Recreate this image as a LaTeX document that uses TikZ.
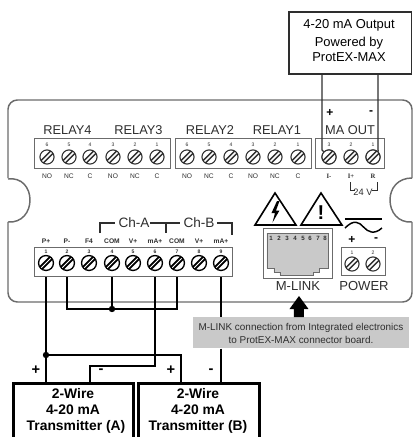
\documentclass[tikz,border=0pt]{standalone}
\usepackage{fontspec}
\setmainfont{Liberation Sans}
\newfontfamily\serifx{Liberation Serif}
\newcommand{\fsz}[1]{\fontsize{#1}{#1}\selectfont}
\definecolor{ink}{gray}{0.18}
\definecolor{panelc}{gray}{0.42}
\definecolor{greyb}{gray}{0.79}
\tikzset{
 x=0.75pt,y=-0.75pt,
 screwl/.style={circle,draw=ink,line width=0.8pt,fill=white,minimum size=10.6pt,inner sep=0pt,
   path picture={\draw[ink,line width=3.6pt] (path picture bounding box.south west)--(path picture bounding box.north east);
   \draw[white,line width=1.3pt] (path picture bounding box.south west)--(path picture bounding box.north east);}},
 screwd/.style={circle,draw=black,line width=1pt,fill=white,minimum size=11.2pt,inner sep=0pt,
   path picture={\draw[black,line width=3.6pt] (path picture bounding box.south west)--(path picture bounding box.north east);
   \draw[white,line width=0.6pt] (path picture bounding box.south west)--(path picture bounding box.north east);}},
 block/.style={draw=panelc,line width=0.9pt,fill=white,inner sep=0pt,anchor=north west},
 lbl/.style={inner sep=0pt,text=ink,font=\fsz{9.6}},
 small/.style={inner sep=0pt,text=ink,font=\fsz{5}},
 nr/.style={inner sep=0pt,text=ink,font=\fsz{3.8}},
 mid/.style={inner sep=0pt,text=black,font=\fsz{10.5}},
 wire/.style={draw=black,line width=1.3pt},
 twire/.style={draw=ink,line width=1pt},
 tx/.style={draw=black,line width=1.9pt,fill=white,inner sep=0pt,anchor=north west},
 txlab/.style={inner sep=0pt,text=black,font=\fsz{10.4}\bfseries},
 dot/.style={circle,fill=black,inner sep=0pt,minimum size=4.8pt},
 sign/.style={inner sep=0pt,text=black,font=\fsz{11}\bfseries},
}
\begin{document}
\begin{tikzpicture}
\useasboundingbox (0,0) rectangle (414,437);
% panel
\draw[panelc,line width=1.1pt,rounded corners=7pt]
  (8,178) -- (8,100) -- (412,100) -- (412,178) ;
\draw[panelc,line width=1.1pt,rounded corners=7pt]
  (8,222) -- (8,302) -- (412,302) -- (412,222);
\draw[panelc,line width=1.1pt] (8,179) .. controls (22,177) and (30,188) .. (30,200) .. controls (30,212) and (22,223) .. (8,222);
\draw[panelc,line width=1.1pt] (412,178) .. controls (398,178) and (390,188) .. (390,200) .. controls (390,212) and (398,223) .. (412,222);
% terminal blocks
\node[block,minimum width=102pt,minimum height=22.5pt] (relayA) at (34,138) {};
\node[block,minimum width=102pt,minimum height=22.5pt] (relayB) at (175,138) {};
\node[block,minimum width=51.75pt,minimum height=22.5pt] (maout) at (315,138) {};
\node[block,minimum width=148.5pt,minimum height=21.75pt] (lower) at (34,247) {};
\node[block,minimum width=33pt,minimum height=21pt] (pow) at (341,247) {};
% relay screws
\foreach \i/\xx/\n/\t in {1/47/6/NO,2/69/5/NC,3/90/4/C,4/113/3/NO,5/135/2/NC,6/157/1/C,7/187/6/NO,8/209/5/NC,9/231/4/C,10/253/3/NO,11/275/2/NC,12/298/1/C}{
  \node[screwl] (r\i) at (\xx,157) {};
  \node[nr] (rn\i) at (\xx,145) {\n};
  \node[small] (rt\i) at (\xx,176) {\t};
}
\foreach \i/\xx/\n/\t in {1/329/3/I-,2/351/2/I+,3/373/1/R}{
  \node[screwl] (m\i) at (\xx,157) {};
  \node[nr] (mn\i) at (\xx,145) {\n};
  \node[small,font=\serifx\bfseries\fsz{5}] (mt\i) at (\xx,176) {\t};
}
\foreach \i/\xx/\n/\t in {1/46/1/P+,2/67/2/P-,3/89/3/F4,4/112/4/COM,5/133/5/V+,6/155/6/mA+,7/177/7/COM,8/199/8/V+,9/221/9/mA+}{
  \node[screwd] (t\i) at (\xx,263) {};
  \node[nr,font=\bfseries\fsz{3.8}] (tn\i) at (\xx,252) {\n};
  \node[small,font=\bfseries\fsz{5}] (tt\i) at (\xx,241) {\t};
}
\foreach \i/\xx/\n in {1/352/1,2/373/2}{
  \node[screwl] (p\i) at (\xx,264) {};
  \node[nr] (pn\i) at (\xx,253) {\n};
}
% labels
\node[lbl] (l4) at (67.5,130) {RELAY4};
\node[lbl] (l3) at (138.5,130) {RELAY3};
\node[lbl] (l2) at (210,130) {RELAY2};
\node[lbl] (l1) at (277,130) {RELAY1};
\node[lbl] (lm) at (350,130) {MA OUT};
\node[mid,font=\bfseries\fsz{9}] (mp) at (330,113) {+};
\node[mid,font=\bfseries\fsz{9}] (mm) at (371,113) {-};
\node[lbl,font=\fsz{7}] (v24) at (363,192) {24 V};
\coordinate (v1) at (350,182); \coordinate (v2) at (350,190); \coordinate (v3) at (355,190);
\coordinate (v4) at (372,190); \coordinate (v5) at (377,190); \coordinate (v6) at (377,182);
\draw[ink,line width=.6pt] (v1)--(v2)--(v3) (v4)--(v5)--(v6);
% Ch brackets
\node[lbl,font=\fsz{10.2}] (cha) at (134,223) {Ch-A};
\node[lbl,font=\fsz{10.2}] (chb) at (199,223) {Ch-B};
\coordinate (b1) at (100,233); \coordinate (b2) at (100,223); \coordinate (b3) at (115,223);
\coordinate (b4) at (150,223); \coordinate (b5) at (180,223); \coordinate (b6) at (166,223); \coordinate (b7) at (166,233);
\coordinate (b8) at (217,223); \coordinate (b9) at (232,223); \coordinate (b10) at (232,235);
\draw[ink,line width=.8pt] (b1)--(b2)--(b3) (b4)--(b5) (b6)--(b7) (b8)--(b9)--(b10);
% top box
\node[draw=ink,line width=1.3pt,fill=white,anchor=north west,minimum width=92pt,minimum height=46.5pt,inner sep=0pt] (outbox) at (288,11) {};
\node[mid,font=\fsz{9.7}] (ot1) at (349,25) {4-20 mA Output};
\node[mid,font=\fsz{9.7}] (ot2) at (349,43) {Powered by};
\node[mid,font=\fsz{9.7}] (ot3) at (349,57.5) {ProtEX-MAX};
\coordinate (w1) at (322,150); \coordinate (w2) at (378,150);
\draw[twire] (322,73) -- (w1) -- (m1.north west);
\draw[twire] (378,73) -- (w2) -- (m3.north east);
\node[screwl] at (m1) {};
\node[screwl] at (m3) {};
% warning triangles
\coordinate (ta1) at (275,193); \coordinate (ta2) at (255,225); \coordinate (ta3) at (296,225);
\coordinate (tb1) at (321,193); \coordinate (tb2) at (301,225); \coordinate (tb3) at (342,225);
\draw[black,line width=1.2pt,line join=miter] (ta1)--(ta2)--(ta3)--cycle;
\draw[black,line width=1.2pt,line join=miter] (tb1)--(tb2)--(tb3)--cycle;
\fill[black] (277,201) -- (271.5,213) -- (275,213) -- (272.5,222.5) -- (279.5,210.5) -- (276,210.5) -- (279.5,201) -- cycle;
\node[inner sep=0pt,font=\bfseries\fsz{15}] (ex) at (321,212.5) {!};
% M-LINK
\node[draw=panelc,line width=1pt,fill=white,anchor=north west,minimum width=51.75pt,minimum height=37.5pt,inner sep=0pt] (mlink) at (263,228) {};
\draw[panelc,line width=.7pt,fill=greyb] (267,233) -- (328,233) -- (328,268) -- (319,268) -- (319,272) -- (313,272) -- (313,275) -- (280,275) -- (280,272) -- (274,272) -- (274,268) -- (267,268) -- cycle;
\foreach \i/\xx in {1/271,2/279,3/287,4/295,5/303,6/310,7/318,8/325}{
  \node[inner sep=0pt,text=ink,font=\bfseries\fsz{4.6}] (ml\i) at (\xx,238.5) {\i};
}
\node[lbl,font=\fsz{9.8}] (mlt) at (298,286) {M-LINK};
\node[lbl,font=\fsz{9.8}] (pwt) at (364,286) {POWER};
\node[mid,font=\bfseries\fsz{9}] (pp) at (352,240) {+};
\node[mid,font=\bfseries\fsz{9}] (pm) at (376,240) {-};
% AC symbol
\coordinate (ac1) at (345,219); \coordinate (ac2) at (382,219);
\coordinate (ac3) at (345,228); \coordinate (ac4) at (382,228);
\draw[black,line width=1.1pt] (ac1)--(ac2);
\draw[black,line width=1.1pt] (ac3) .. controls (354,219) and (359,222) .. (363.5,227) .. controls (368,232) and (374,235) .. (ac4);
% grey note
\node[fill=greyb,anchor=north west,minimum width=162pt,minimum height=23.25pt,inner sep=0pt] (note) at (193,317) {};
\node[inner sep=0pt,text=ink,font=\fsz{7.45}] (n1) at (301,327.5) {M-LINK connection from Integrated electronics};
\node[inner sep=0pt,text=ink,font=\fsz{7.45}] (n2) at (301,340) {to ProtEX-MAX connector board.};
\fill[black] (299,296) -- (308.5,309) -- (304,309) -- (304,317) -- (294,317) -- (294,309) -- (289.5,309) -- cycle;
% transmitters
\node[tx,minimum width=90pt,minimum height=50pt] (ta) at (12,382) {};
\node[tx,minimum width=91pt,minimum height=50pt] (tb) at (137,382) {};
\node[txlab] (a1) at (73,394) {2-Wire};
\node[txlab] (a2) at (73,410) {4-20 mA};
\node[txlab] (a3) at (76,427) {Transmitter (A)};
\node[txlab] (c1) at (198,394) {2-Wire};
\node[txlab] (c2) at (198,410) {4-20 mA};
\node[txlab] (c3) at (198,427) {Transmitter (B)};
% wires
\coordinate (j1) at (46,355);
\coordinate (j2) at (112,309);
\coordinate (k1) at (67,309); \coordinate (k2) at (177,309);
\coordinate (k3) at (181,355);
\coordinate (k4) at (155,366); \coordinate (k5) at (90,366);
\draw[wire] (t1 |- lower.south) -- (t1 |- ta.north);
\draw[wire] (j1) -- (k3) -- (k3 |- tb.north);
\draw[wire] (t2 |- lower.south) -- (k1) -- (k2) -- (t7 |- lower.south);
\draw[wire] (t4 |- lower.south) -- (j2);
\draw[wire] (t6 |- lower.south) -- (k4) -- (k5) -- (k5 |- ta.north);
\draw[wire] (t9 |- lower.south) -- (t9 |- note.north);
\draw[wire] (t9 |- note.south) -- (t9 |- tb.north);
\node[dot] (dj1) at (j1) {};
\node[dot] (dj2) at (j2) {};
\node[sign] (s1) at (36,370) {+};
\node[sign] (s2) at (101,371) {-};
\node[sign] (s3) at (171,370) {+};
\node[sign] (s4) at (211,371) {-};
\end{tikzpicture}
\end{document}
